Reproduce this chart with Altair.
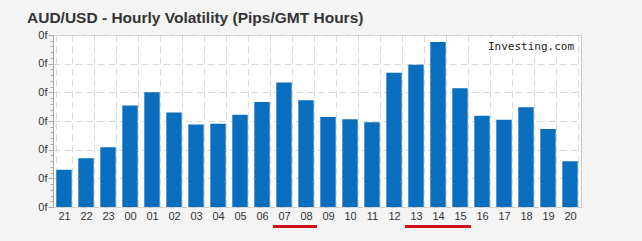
import altair as alt
import pandas as pd

hours = ["21", "22", "23", "00", "01", "02", "03", "04", "05", "06", "07", "08",
         "09", "10", "11", "12", "13", "14", "15", "16", "17", "18", "19", "20"]
volatility = [6.5, 8.5, 10.4, 17.7, 20.0, 16.5, 14.4, 14.5, 16.1, 18.3, 21.7, 18.6,
              15.7, 15.3, 14.8, 23.4, 24.8, 28.8, 20.7, 15.9, 15.2, 17.4, 13.6, 8.0]
underlined = ["07", "08", "13", "14", "15"]
y_ticks = list(range(0, 31))

df = pd.DataFrame({"hour": hours, "vol": volatility})
df_u = pd.DataFrame({"hour": underlined})

W, H = 528, 172
major = "datum.value % 5 === 0"
PAD_IN = 0.3

x_scale = alt.Scale(domain=hours, paddingInner=PAD_IN, paddingOuter=0.15)
y_scale = alt.Scale(domain=[0, 30], nice=False)

bars = alt.Chart(df).mark_bar(color="#0a6ebe").encode(
    x=alt.X("hour:N", sort=hours, scale=x_scale,
            axis=alt.Axis(title=None, labelAngle=0, ticks=False, domain=False,
                          grid=True, tickBand="extent", gridColor="#d9d9d9",
                          gridDash=[7, 4], labelFont="Liberation Sans",
                          labelFontSize=11, labelColor="#333333", labelPadding=3)),
    y=alt.Y("vol:Q", scale=y_scale,
            axis=alt.Axis(title=None, values=y_ticks,
                          labelExpr=f"{major} ? '0f' : ''",
                          tickSize={"condition": {"test": major, "value": 5}, "value": 3},
                          gridOpacity={"condition": {"test": major, "value": 1}, "value": 0},
                          gridColor="#d9d9d9", gridDash=[7, 4],
                          tickColor="#aaaaaa", domainColor="#aaaaaa",
                          labelFont="Liberation Sans", labelFontSize=11,
                          labelColor="#333333", labelPadding=1,
                          labelOverlap=False)),
)

under = alt.Chart(df_u).mark_bar(color="#d0101a",
                                 width=alt.RelativeBandSize(1 / (1 - PAD_IN))).encode(
    x=alt.X("hour:N", sort=hours, scale=x_scale),
    y=alt.value(190),
    y2=alt.value(193),
)

wm_box = alt.Chart(pd.DataFrame({"t": ["Investing.com"]})).mark_rect(color="white").encode(
    x=alt.value(W - 98), x2=alt.value(W - 3), y=alt.value(3), y2=alt.value(21),
)
wm = alt.Chart(pd.DataFrame({"t": ["Investing.com"]})).mark_text(
    font="DejaVu Sans Mono", fontSize=11, color="#222222", align="right", baseline="middle"
).encode(text="t:N", x=alt.value(W - 7), y=alt.value(12))

chart = alt.layer(wm_box, bars, under, wm).properties(
    width=W, height=H,
    title=alt.TitleParams("AUD/USD - Hourly Volatility (Pips/GMT Hours)",
                          anchor="start", frame="group", dx=-26, offset=3,
                          font="Liberation Sans", fontSize=15.5, fontWeight="bold",
                          color="#333333"),
    autosize=alt.AutoSizeParams(type="none"),
    padding={"left": 53, "top": 35, "right": 61, "bottom": 34},
    background="#f4f4f4",
).configure_view(fill="white", stroke="#c8c8c8")

chart.save("out.html", embed_options={"renderer": "svg", "actions": False})
